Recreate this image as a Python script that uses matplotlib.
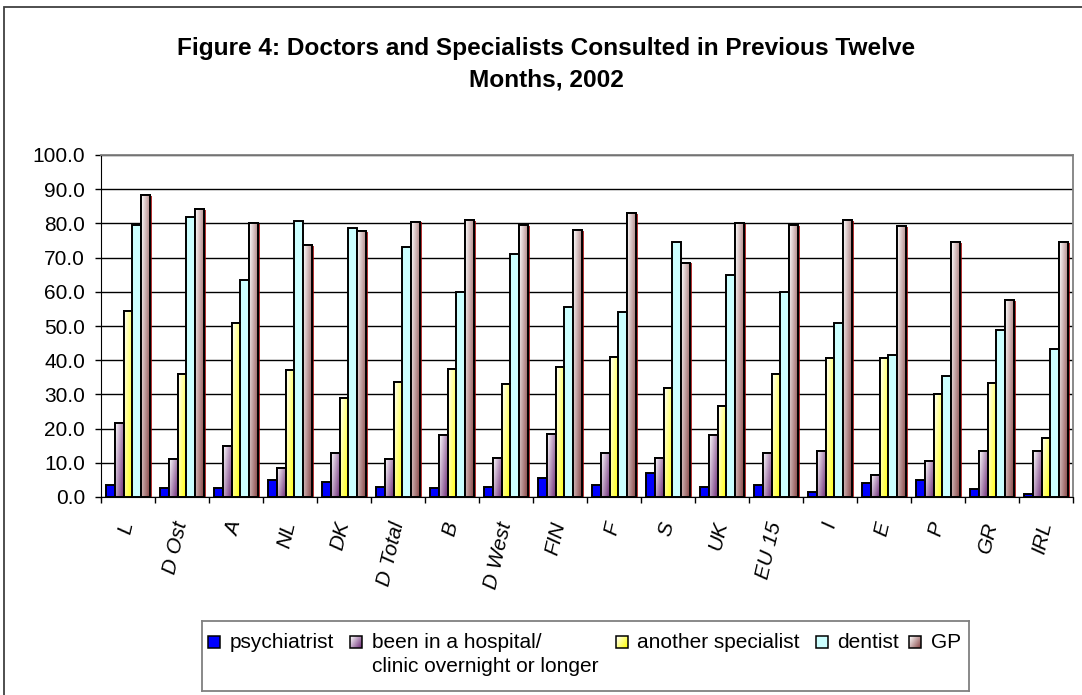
import numpy as np
import matplotlib.pyplot as plt
from matplotlib.colors import to_rgb
from matplotlib.patches import Rectangle
from matplotlib import patheffects as pe

plt.rcParams['font.family'] = ['Liberation Sans', 'DejaVu Sans']

countries = ['L', 'D Ost', 'A', 'NL', 'DK', 'D Total', 'B', 'D West', 'FIN',
             'F', 'S', 'UK', 'EU 15', 'I', 'E', 'P', 'GR', 'IRL']
psychiatrist = [3.5, 2.5, 2.5, 5.0, 4.5, 3.0, 2.5, 3.0, 5.5, 3.5, 7.0, 3.0, 3.5, 1.5, 4.0, 5.0, 2.2, 1.0]
hospital = [21.5, 11.0, 15.0, 8.5, 13.0, 11.0, 18.0, 11.5, 18.5, 13.0, 11.5, 18.0, 13.0, 13.5, 6.5, 10.4, 13.4, 13.4]
specialist = [54.5, 36.0, 51.0, 37.0, 29.0, 33.5, 37.5, 33.0, 38.0, 41.0, 32.0, 26.5, 36.0, 40.5, 40.5, 30.1, 33.2, 17.3]
dentist = [79.5, 81.8, 63.5, 80.6, 78.7, 73.0, 60.0, 71.0, 55.5, 54.0, 74.5, 65.0, 60.0, 51.0, 41.5, 35.4, 48.8, 43.2]
gp = [88.3, 84.1, 80.1, 73.6, 77.7, 80.5, 81.0, 79.5, 78.0, 83.0, 68.5, 80.0, 79.5, 81.0, 79.1, 74.5, 57.6, 74.5]

series_names = ['psychiatrist', 'been in a hospital/\nclinic overnight or longer',
                'another specialist', 'dentist', 'GP']
series = [psychiatrist, hospital, specialist, dentist, gp]

# face colour, gradient end colour (None = flat), shadow
styles = [
    ('#0000FF', None, False),
    ('#B080B0', '#6E2C78', False),
    ('#FFFF66', '#FFFF00', False),
    ('#CCFFFF', None, False),
    ('#B08080', '#884646', True),
]


def gradient(dark, lo=0.0, nx=24, ny=64):
    d = np.array(to_rgb(dark))
    l = np.ones(3)
    u = np.linspace(0, 1, nx)[None, :]
    v = np.linspace(0, 1, ny)[:, None]
    t = lo + (1 - lo) * (0.6 * u + 0.4 * v)
    return l * (1 - t[..., None]) + d * t[..., None]


W, H = 1082, 695
fig = plt.figure(figsize=(W / 100, H / 100), dpi=100)
ax = fig.add_axes([101 / W, 1 - 497 / H, 972 / W, 342 / H])

x = np.arange(len(countries))
w = 0.16
lw = 1.4
for k, (vals, (face, dark, shadow)) in enumerate(zip(series, styles)):
    pos = x + (k - 2) * w
    bars = ax.bar(pos, vals, w, color=face, edgecolor='black', linewidth=lw, zorder=2)
    if shadow:
        for b in bars:
            b.set_path_effects([pe.SimplePatchShadow(offset=(1.8, -0.5), shadow_rgbFace='#A00000', alpha=0.8),
                                pe.Normal()])
    if dark:
        img = gradient(dark)
        for b in bars:
            im = ax.imshow(img, extent=[b.get_x(), b.get_x() + b.get_width(), 0, b.get_height()],
                           aspect='auto', zorder=2.1, interpolation='bilinear')
            im.set_clip_path(b)
        ax.bar(pos, vals, w, fill=False, edgecolor='black', linewidth=lw, zorder=2.2)

ax.set_xlim(-0.5, len(countries) - 0.5)
ax.set_ylim(0, 100)
ax.set_aspect('auto')

ax.set_yticks(np.arange(0, 101, 10))
ax.set_yticklabels([f'{v:.1f}' for v in np.arange(0, 101, 10)])
ax.tick_params(axis='y', direction='out', length=4.5, width=1, pad=7, labelsize=15)

ax.set_xticks(np.arange(-0.5, len(countries), 1))
ax.set_xticklabels([])
ax.tick_params(axis='x', which='major', direction='out', length=4, width=1)
ax.set_xticks(x, minor=True)
ax.set_xticklabels(countries, minor=True, rotation=77, ha='right', va='center',
                   rotation_mode='anchor', style='italic', fontsize=15)
ax.tick_params(axis='x', which='minor', length=0, pad=18)

ax.set_axisbelow(True)
ax.yaxis.grid(True, color='black', linewidth=1)
for s in ['left', 'bottom']:
    ax.spines[s].set_color('black')
for s in ['top', 'right']:
    ax.spines[s].set_color('#808080')
    ax.spines[s].set_linewidth(1.3)

fig.text(546 / W, 1 - 64 / H, 'Figure 4: Doctors and Specialists Consulted in Previous Twelve\nMonths, 2002',
         ha='center', va='center', fontsize=17.6, fontweight='bold', linespacing=1.45)

# chart area border (extends past the right and bottom edge)
fig.add_artist(Rectangle((4 / W, -1), 2, 2 - 7 / H, transform=fig.transFigure,
                         fill=False, edgecolor='#404040', linewidth=1.3))

# legend
lax = fig.add_axes([202 / W, 1 - 691 / H, 767 / W, 70 / H])
lax.set_xticks([])
lax.set_yticks([])
for s in lax.spines.values():
    s.set_color('#808080')
    s.set_linewidth(1.3)
slots = [(6, 28), (148, 170), (414, 435), (614, 635), (707, 729)]
for (sx, tx), name, (face, dark, shadow) in zip(slots, series_names, styles):
    if dark:
        lax.imshow(gradient(dark, nx=12, ny=12), extent=[sx, sx + 12, 27, 15], aspect='auto',
                   interpolation='bilinear', zorder=1)
        lax.add_patch(Rectangle((sx, 15), 12, 12, fill=False, edgecolor='black', linewidth=1.1, zorder=2))
    else:
        lax.add_patch(Rectangle((sx, 15), 12, 12, facecolor=face, edgecolor='black', linewidth=1.1, zorder=2))
    lax.text(tx, 12, name, ha='left', va='top', fontsize=15, linespacing=1.32)
lax.set_xlim(0, 767)
lax.set_ylim(70, 0)

fig.savefig('out.png', dpi=100)
